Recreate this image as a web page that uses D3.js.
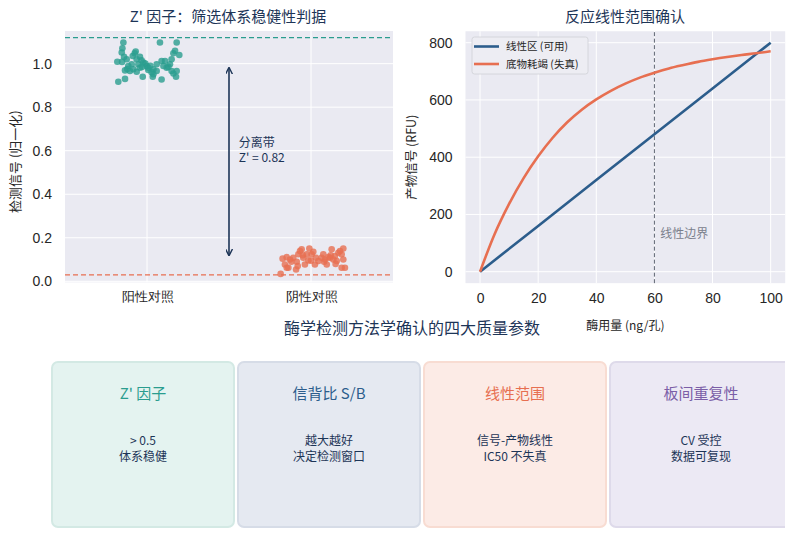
<!DOCTYPE html>
<html><head><meta charset="utf-8">
<script src="https://cdn.jsdelivr.net/npm/d3@7"></script>
<style>
html,body{margin:0;padding:0;background:#fff;}
svg{display:block;font-family:"Noto Sans CJK SC","Noto Sans",sans-serif;}
</style></head>
<body>
<svg id="chart" width="795" height="557"></svg>
<script>
// ---------------- DATA ----------------
const zCategories = ["阳性对照", "阴性对照"];
const zYTicks = [0.0, 0.2, 0.4, 0.6, 0.8, 1.0];
// positive control: [jitter offset, normalised signal]
const positiveOffsets = [-0.144,-0.150,-0.154,-0.140,-0.181,-0.152,-0.124,-0.075,-0.087,-0.069,-0.043,-0.063,-0.033,-0.022,-0.053,-0.093,-0.114,-0.134,-0.104,-0.083,-0.063,-0.043,-0.002,0.008,0.028,0.039,0.059,0.059,0.079,0.089,0.100,0.110,0.120,0.140,0.150,0.161,0.171,0.181,0.197,0.150,0.161,0.181,0.177,0.035,-0.026,0.089,-0.134,-0.175,0.039,0.008,-0.010,-0.030,0.020,-0.120,0.130];
const positiveValues  = [1.097,1.071,1.051,1.031,1.009,1.008,1.020,1.048,1.035,1.056,1.032,1.020,1.015,1.005,0.997,0.997,0.989,0.969,0.966,0.974,0.963,0.981,0.989,0.971,0.961,0.974,0.997,0.966,1.097,1.012,0.989,1.012,0.981,0.997,1.020,1.048,1.059,1.097,1.040,0.966,0.955,0.966,0.940,0.940,0.940,0.927,0.930,0.917,0.951,0.981,1.000,0.985,0.990,0.975,0.985];
const negativeOffsets = [-0.185,-0.173,-0.159,-0.148,-0.138,-0.128,-0.108,-0.087,-0.077,-0.067,-0.057,-0.047,-0.037,-0.026,-0.016,-0.010,0.004,0.014,0.024,0.030,0.045,0.065,0.075,0.085,0.096,0.106,0.116,0.126,0.136,0.146,0.157,0.167,0.177,0.187,0.197,0.197,0.187,0.207,-0.091,-0.148,-0.081,-0.120,0.000,0.120,0.080,-0.050,0.150];
const negativeValues  = [0.034,0.104,0.077,0.111,0.062,0.100,0.108,0.090,0.124,0.139,0.147,0.108,0.077,0.124,0.096,0.151,0.124,0.136,0.077,0.108,0.093,0.108,0.124,0.100,0.077,0.111,0.108,0.147,0.100,0.116,0.093,0.131,0.139,0.124,0.151,0.100,0.062,0.062,0.054,0.062,0.070,0.090,0.095,0.120,0.090,0.120,0.080];
const zThresholds = [1.12, 0.03];
const zArrow = [0.98, 0.12];
const zLabel = ["分离带", "Z' = 0.82"];

const enzymeDose = [0,5,10,15,20,25,30,35,40,45,50,55,60,65,70,75,80,85,90,95,100];
const depletionSignal = [0,131,237,327,403,468,522,566,602,632,657,678,695,710,722,733,742,750,757,763,770];
const linearDose = [0,20,40,60,80,100];
const linearSignal = [0,160,320,480,640,800];
const linXTicks = [0,20,40,60,80,100];
const linYTicks = [0,200,400,600,800];
const linBoundary = 60;
const seriesNames = ["线性区 (可用)", "底物耗竭 (失真)"];

const cardTitles = ["Z' 因子", "信背比 S/B", "线性范围", "板间重复性"];
const cardLine1 = ["> 0.5", "越大越好", "信号-产物线性", "CV 受控"];
const cardLine2 = ["体系稳健", "决定检测窗口", "IC50 不失真", "数据可复现"];

// ---------------- STYLE ----------------
const teal = "#2a9d8f", orange = "#e76f51", navy = "#1d3557", blue = "#2c5d8c", purple = "#7b5ea7";
const gridBg = "#eaeaf2";
const cardFill = ["#e4f3f0", "#e5e9f1", "#fcebe6", "#ece9f4"];
const cardStroke = ["#d3e9e4", "#d6dce7", "#f8dcd2", "#dedaea"];
const cardTitleColor = [teal, blue, orange, purple];

const svg = d3.select("#chart");
const defs = svg.append("defs");

// ---------------- LEFT: Z' factor ----------------
const zx = d3.scaleLinear().domain([-0.5, 1.5]).range([65, 393]);
const zy = d3.scaleLinear().domain([-0.005, 1.15]).range([282.4, 31]);
const gL = svg.append("g");
gL.append("rect").attr("x", zx(-0.5)).attr("y", zy(1.15)).attr("width", zx(1.5)-zx(-0.5)).attr("height", zy(-0.005)-zy(1.15)).attr("fill", gridBg);
gL.append("g").selectAll("line").data(zYTicks).join("line")
  .attr("x1", zx(-0.5)).attr("x2", zx(1.5)).attr("y1", d=>zy(d)).attr("y2", d=>zy(d))
  .attr("stroke", "#fff").attr("stroke-width", 1);
gL.append("g").selectAll("line").data([0,1]).join("line")
  .attr("x1", d=>zx(d)).attr("x2", d=>zx(d)).attr("y1", zy(-0.005)).attr("y2", zy(1.15))
  .attr("stroke", "#fff").attr("stroke-width", 1);
const zyAxis = d3.axisLeft(zy).tickValues(zYTicks).tickFormat(d3.format(".1f")).tickSize(0).tickPadding(13);
gL.append("g").attr("transform", `translate(${zx(-0.5)},0)`).call(zyAxis)
  .call(g=>g.select(".domain").remove())
  .call(g=>g.selectAll("text").attr("font-size", 14).attr("fill", "#262626").attr("font-family", "inherit"));
const zxAxis = d3.axisBottom(zx).tickValues([0,1]).tickFormat((d,i)=>zCategories[i]).tickSize(0).tickPadding(9);
gL.append("g").attr("transform", `translate(0,${zy(-0.005)})`).call(zxAxis)
  .call(g=>g.select(".domain").remove())
  .call(g=>g.selectAll("text").attr("font-size", 13).attr("fill", "#262626").attr("font-family", "inherit"));
gL.append("line").attr("x1", zx(-0.5)).attr("x2", zx(1.5)).attr("y1", zy(zThresholds[0])).attr("y2", zy(zThresholds[0]))
  .attr("stroke", teal).attr("stroke-width", 1.3).attr("stroke-dasharray", "5,3");
gL.append("line").attr("x1", zx(-0.5)).attr("x2", zx(1.5)).attr("y1", zy(zThresholds[1])).attr("y2", zy(zThresholds[1]))
  .attr("stroke", orange).attr("stroke-width", 1.3).attr("stroke-dasharray", "5,3");
gL.append("g").selectAll("circle").data(positiveValues).join("circle")
  .attr("cx", (d,i)=>zx(0 + positiveOffsets[i])).attr("cy", d=>zy(d)).attr("r", 3.3)
  .attr("fill", teal).attr("fill-opacity", 0.8);
gL.append("g").selectAll("circle").data(negativeValues).join("circle")
  .attr("cx", (d,i)=>zx(1 + negativeOffsets[i])).attr("cy", d=>zy(d)).attr("r", 3.3)
  .attr("fill", orange).attr("fill-opacity", 0.8);
defs.append("marker").attr("id", "ah").attr("viewBox", "0 0 10 10").attr("refX", 9).attr("refY", 5)
  .attr("markerWidth", 7).attr("markerHeight", 7).attr("markerUnits", "userSpaceOnUse").attr("orient", "auto-start-reverse")
  .append("path").attr("d", "M0,0 L10,5 L0,10").attr("fill", "none").attr("stroke", navy).attr("stroke-width", 2);
gL.append("line").attr("x1", zx(0.5)).attr("x2", zx(0.5)).attr("y1", zy(zArrow[0])).attr("y2", zy(zArrow[1]))
  .attr("stroke", navy).attr("stroke-width", 1.6)
  .attr("marker-start", "url(#ah)").attr("marker-end", "url(#ah)");
gL.append("text").attr("x", zx(0.56)).attr("y", 146.5).attr("font-size", 12).attr("fill", navy).text(zLabel[0]);
gL.append("text").attr("x", zx(0.56)).attr("y", 162).attr("font-size", 12).attr("fill", navy).text(zLabel[1]);
gL.append("text").attr("x", 228).attr("y", 22).attr("text-anchor", "middle").attr("font-size", 15).attr("fill", navy)
  .text("Z' 因子：筛选体系稳健性判据");
gL.append("text").attr("transform", `translate(20,${zy(0.55)}) rotate(-90)`).attr("text-anchor", "middle")
  .attr("font-size", 13).attr("fill", "#262626").text("检测信号 (归一化)");

// ---------------- RIGHT: linearity ----------------
const lx = d3.scaleLinear().domain([-5, 105]).range([465.5, 785.2]);
const ly = d3.scaleLinear().domain([-40, 840]).range([283.15, 31.25]);
const gR = svg.append("g");
gR.append("rect").attr("x", lx(-5)).attr("y", ly(840)).attr("width", lx(105)-lx(-5)).attr("height", ly(-40)-ly(840)).attr("fill", gridBg);
gR.append("g").selectAll("line").data(linYTicks).join("line")
  .attr("x1", lx(-5)).attr("x2", lx(105)).attr("y1", d=>ly(d)).attr("y2", d=>ly(d)).attr("stroke", "#fff");
gR.append("g").selectAll("line").data(linXTicks).join("line")
  .attr("x1", d=>lx(d)).attr("x2", d=>lx(d)).attr("y1", ly(-40)).attr("y2", ly(840)).attr("stroke", "#fff");
gR.append("g").attr("transform", `translate(${lx(-5)},0)`)
  .call(d3.axisLeft(ly).tickValues(linYTicks).tickSize(0).tickPadding(13))
  .call(g=>g.select(".domain").remove())
  .call(g=>g.selectAll("text").attr("font-size", 14).attr("fill", "#262626").attr("font-family", "inherit"));
gR.append("g").attr("transform", `translate(0,${ly(-40)})`)
  .call(d3.axisBottom(lx).tickValues(linXTicks).tickSize(0).tickPadding(10))
  .call(g=>g.select(".domain").remove())
  .call(g=>g.selectAll("text").attr("font-size", 14).attr("fill", "#262626").attr("font-family", "inherit"));
gR.append("line").attr("x1", lx(linBoundary)).attr("x2", lx(linBoundary)).attr("y1", ly(-40)).attr("y2", ly(840))
  .attr("stroke", "#5f6673").attr("stroke-width", 1).attr("stroke-dasharray", "4,2.5");
gR.append("text").attr("x", lx(62)).attr("y", ly(134) + 4.5).attr("font-size", 12).attr("fill", "#7a808c").text("线性边界");
const lineGen = d3.line().x(d=>lx(d[0])).y(d=>ly(d[1]));
gR.append("path").datum(linearDose.map((d,i)=>[d, linearSignal[i]])).attr("d", lineGen)
  .attr("fill", "none").attr("stroke", blue).attr("stroke-width", 2.6);
gR.append("path").datum(enzymeDose.map((d,i)=>[d, depletionSignal[i]])).attr("d", lineGen.curve(d3.curveMonotoneX))
  .attr("fill", "none").attr("stroke", orange).attr("stroke-width", 2.6);
const leg = gR.append("g").attr("transform", "translate(472,37)");
leg.append("rect").attr("width", 116).attr("height", 37).attr("rx", 2.5).attr("fill", "#ededf3").attr("stroke", "#cfd0d6").attr("stroke-width", 0.8);
[blue, orange].forEach((c,i)=>{
  leg.append("line").attr("x1", 2).attr("x2", 27).attr("y1", 9.5 + i*17.5).attr("y2", 9.5 + i*17.5).attr("stroke", c).attr("stroke-width", 2.6);
  leg.append("text").attr("x", 34).attr("y", 9.5 + i*17.5 + 3.8).attr("font-size", 10.5).attr("fill", "#262626").text(seriesNames[i]);
});
gR.append("text").attr("x", 625).attr("y", 22).attr("text-anchor", "middle").attr("font-size", 15).attr("fill", navy).text("反应线性范围确认");
gR.append("text").attr("x", lx(50)).attr("y", 330).attr("text-anchor", "middle").attr("font-size", 12).attr("fill", "#262626").text("酶用量 (ng/孔)");
gR.append("text").attr("transform", `translate(416,${ly(400)}) rotate(-90)`).attr("text-anchor", "middle")
  .attr("font-size", 12.5).attr("fill", "#262626").text("产物信号 (RFU)");

// ---------------- BOTTOM: cards ----------------
svg.append("text").attr("x", 412).attr("y", 334).attr("text-anchor", "middle").attr("font-size", 16).attr("fill", navy)
  .text("酶学检测方法学确认的四大质量参数");
defs.append("clipPath").attr("id", "pageclip").append("rect").attr("x", 0).attr("y", 0).attr("width", 785).attr("height", 557);
const cx = d3.scaleBand().domain(d3.range(cardTitles.length)).range([52, 792]).paddingInner(0.0215);
const cards = svg.append("g").attr("clip-path", "url(#pageclip)").selectAll("g").data(cardTitles).join("g")
  .attr("transform", (d,i)=>`translate(${cx(i)},0)`);
cards.append("rect").attr("x", 0).attr("y", 362).attr("width", cx.bandwidth()).attr("height", 165).attr("rx", 6)
  .attr("fill", (d,i)=>cardFill[i]).attr("stroke", (d,i)=>cardStroke[i]).attr("stroke-width", 2);
cards.append("text").attr("x", cx.bandwidth()/2).attr("y", 399).attr("text-anchor", "middle").attr("font-size", 15)
  .attr("fill", (d,i)=>cardTitleColor[i]).text(d=>d);
cards.append("text").attr("x", cx.bandwidth()/2).attr("y", 445).attr("text-anchor", "middle").attr("font-size", 12)
  .attr("fill", navy).text((d,i)=>cardLine1[i]);
cards.append("text").attr("x", cx.bandwidth()/2).attr("y", 461).attr("text-anchor", "middle").attr("font-size", 12)
  .attr("fill", navy).text((d,i)=>cardLine2[i]);
</script>
</body></html>
